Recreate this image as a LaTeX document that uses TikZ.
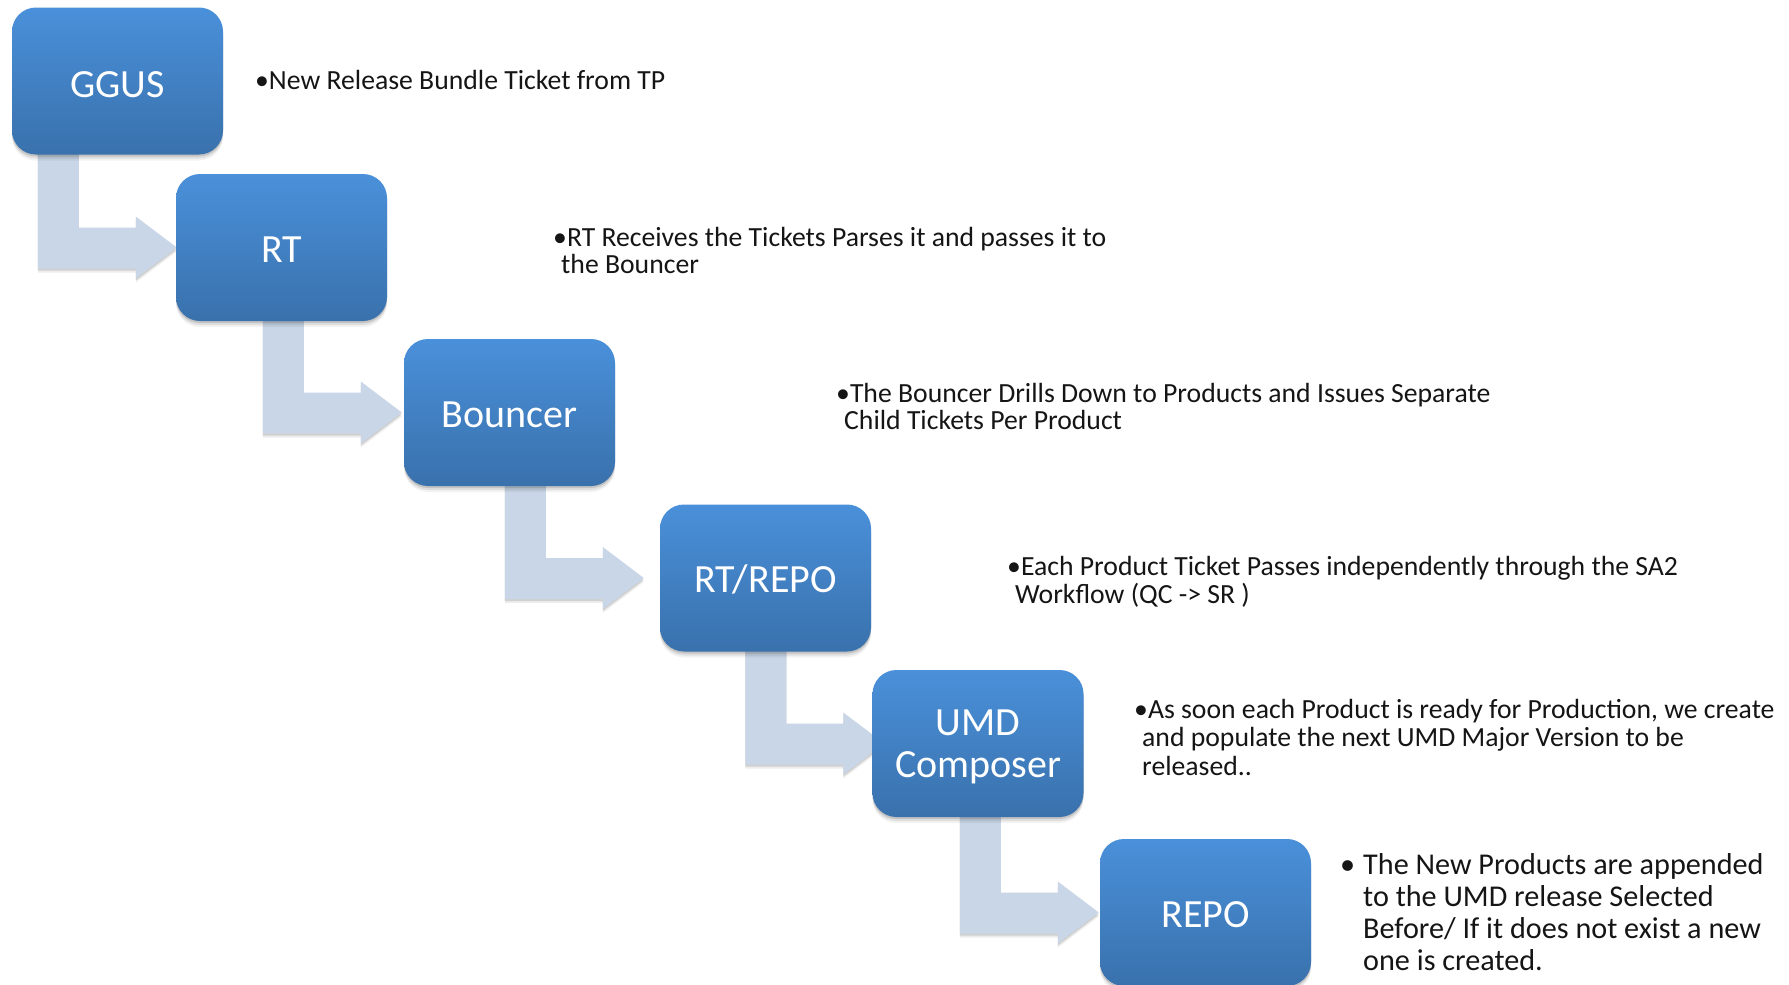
\documentclass[tikz,border=0pt]{standalone}
\usepackage{fontspec}
\setmainfont{Carlito}
\usetikzlibrary{calc,shadows}
\pgfdeclarelayer{background}
\pgfsetlayers{background,main}
\definecolor{boxtop}{HTML}{4A90DA}
\definecolor{boxbot}{HTML}{3971AC}
\definecolor{arrowc}{HTML}{C9D6E7}
\definecolor{desctext}{HTML}{151515}
\tikzset{
 stepbox/.style={rectangle, rounded corners=24pt, minimum width=211pt, minimum height=147pt,
   inner sep=0pt, top color=boxtop, bottom color=boxbot, draw=none, text=white,
   font=\fontsize{40}{42}\selectfont, align=center,
   drop shadow={shadow xshift=0pt, shadow yshift=-6pt, opacity=0.05, fill=black},
   drop shadow={shadow xshift=0pt, shadow yshift=-4pt, opacity=0.08, fill=black},
   drop shadow={shadow xshift=0pt, shadow yshift=-2pt, opacity=0.12, fill=black}},
 oneline/.style={text height=29pt, text depth=0pt},
 desc/.style={anchor=base west, inner sep=0pt, align=left, text=desctext,
   font=\fontsize{27.7}{27.5}\selectfont},
 descbig/.style={anchor=base west, inner sep=0pt, align=left, text=desctext,
   font=\fontsize{30.2}{31.7}\selectfont},
 bent/.style={fill=arrowc, draw=none,
   drop shadow={shadow xshift=0pt, shadow yshift=-4pt, opacity=0.07, fill=black},
   drop shadow={shadow xshift=0pt, shadow yshift=-2pt, opacity=0.12, fill=black}},
}
\newcommand{\bentarrow}[3]{%
  \path[bent] let \p1=($(#2.west)+(-#3,0)$), \p2=(#1.south) in
    (\x1-139pt,\y2+10pt) -- (\x1-139pt,\y1-21pt) -- (\x1-41pt,\y1-21pt) --
    (\x1-41pt,\y1-31pt) -- (\x1,\y1) -- (\x1-41pt,\y1+31pt) --
    (\x1-41pt,\y1+20pt) -- (\x1-98pt,\y1+20pt) -- (\x1-98pt,\y2+10pt) -- cycle;}
\begin{document}
\begin{tikzpicture}[x=1pt,y=-1pt]
\useasboundingbox (0,0) rectangle (1789,985);

\node[stepbox,text height=33pt,text depth=0pt] (ggus) at (117.5,81)  {GGUS};
\node[stepbox,oneline] (rt)      at (281.5,247.5) {RT};
\node[stepbox,oneline] (bouncer) at (509.5,412.5) {Bouncer};
\node[stepbox,oneline] (rtrepo)  at (765.5,578) {RT/REPO};
\node[stepbox,text depth=0pt] (umd) at (978,743.5) {UMD\\Composer};
\node[stepbox,oneline] (repo)    at (1205.5,912.5) {REPO};

\begin{pgfonlayer}{background}
\fill[white] (0,0) rectangle (1789,985);
\bentarrow{ggus}{rt}{-1}
\bentarrow{rt}{bouncer}{2}
\bentarrow{bouncer}{rtrepo}{16}
\bentarrow{rtrepo}{umd}{-12}
\bentarrow{umd}{repo}{1}
\end{pgfonlayer}

% base anchor of a multi-line node is the baseline of its last line
\node[desc] (d1) at (255,89) {•New Release Bundle Ticket from TP};
\node[desc] (d2) at (553,273.5) {•RT Receives the Tickets Parses it and passes it to\\\hspace*{8pt}the Bouncer};
\node[desc] (d3) at (836,429.5) {•The Bouncer Drills Down to Products and Issues Separate\\\hspace*{8pt}Child Tickets Per Product};
\node[desc] (d4) at (1007,603) {•Each Product Ticket Passes independently through the SA2\\\hspace*{8pt}Workflow (QC -> SR )};
\node[desc,font=\fontsize{27.7}{28.5}\selectfont] (d5) at (1134,775) {•As soon each Product is ready for Production, we create\\\hspace*{8pt}and populate the next UMD Major Version to be\\\hspace*{8pt}released..};
\node[descbig] (d6) at (1340,970) {\makebox[23pt][l]{•}The New Products are appended\\\hspace*{23pt}to the UMD release Selected\\\hspace*{23pt}Before/ If it does not exist a new\\\hspace*{23pt}one is created.};
\end{tikzpicture}
\end{document}
